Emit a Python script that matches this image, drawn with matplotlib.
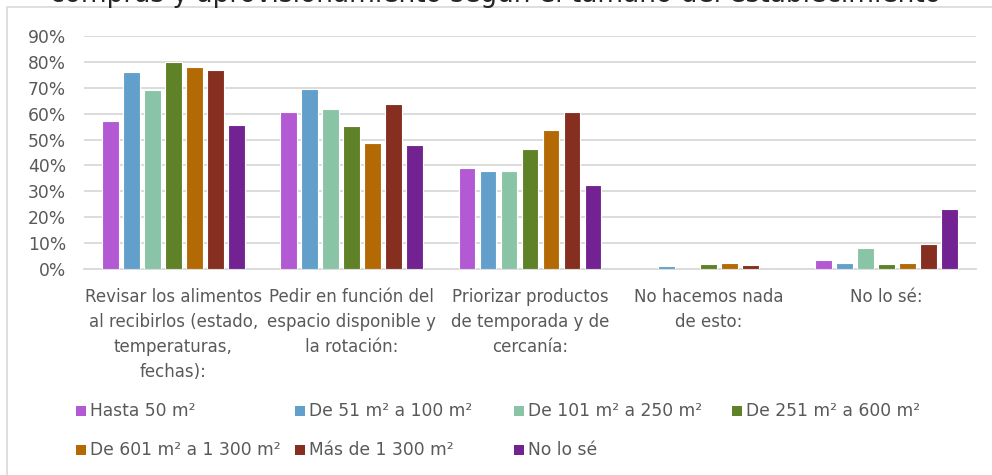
import matplotlib
matplotlib.use("Agg")
import matplotlib.pyplot as plt
from matplotlib.patches import Rectangle
import numpy as np

plt.rcParams['font.family'] = ['DejaVu Sans']

# datos
categorias = [
    "Revisar los alimentos\nal recibirlos (estado,\ntemperaturas,\nfechas):",
    "Pedir en función del\nespacio disponible y\nla rotación:",
    "Priorizar productos\nde temporada y de\ncercanía:",
    "No hacemos nada\nde esto:",
    "No lo sé:",
]
series = [
    "Hasta 50 m²",
    "De 51 m² a 100 m²",
    "De 101 m² a 250 m²",
    "De 251 m² a 600 m²",
    "De 601 m² a 1 300 m²",
    "Más de 1 300 m²",
    "No lo sé",
]
hasta_50 = [0.57, 0.605, 0.39, 0.0, 0.035]
de_51_100 = [0.76, 0.695, 0.38, 0.01, 0.024]
de_101_250 = [0.69, 0.617, 0.38, 0.0, 0.081]
de_251_600 = [0.80, 0.554, 0.465, 0.02, 0.02]
de_601_1300 = [0.78, 0.487, 0.536, 0.022, 0.022]
mas_1300 = [0.77, 0.637, 0.605, 0.014, 0.098]
no_lo_se = [0.555, 0.479, 0.324, 0.0, 0.23]
valores = [hasta_50, de_51_100, de_101_250, de_251_600, de_601_1300, mas_1300, no_lo_se]

colores = ['#B259D3', '#62A0CB', '#8AC4A7', '#5F8127', '#B36A05', '#862F21', '#722391']
gris = '#595959'

W, H = 992, 475
fig = plt.figure(figsize=(W / 100, H / 100), dpi=100)

# marco del gráfico
fig.patches.append(Rectangle((7 / W, -0.1), 1.2, 1 - 7 / H + 0.1, transform=fig.transFigure,
                             fill=False, edgecolor='#D9D9D9', linewidth=1.2))

# título (cortado arriba, como en el original)
fig.text(0.5, 1 - 2 / H, "compras y aprovisionamiento según el tamaño del establecimiento",
         ha='center', va='baseline', fontsize=19, color='#262626')

ax = fig.add_axes([84 / W, 1 - 269 / H, (976 - 84) / W, (269 - 36) / H])

x = np.arange(len(categorias))
paso = 0.1177
ancho = 0.095
for j, vals in enumerate(valores):
    ax.bar(x + (j - 3) * paso, vals, width=ancho, color=colores[j],
           edgecolor='white', linewidth=0.8, zorder=3)

ax.set_xlim(-0.5, len(categorias) - 0.5)
ax.set_ylim(0, 0.9)
ax.set_yticks(np.arange(0, 0.91, 0.1))
ax.set_yticklabels([f"{int(round(v * 100))}%" for v in np.arange(0, 0.91, 0.1)],
                   fontsize=12.3, color=gris)
ax.set_xticks(x)
ax.set_xticklabels(categorias, fontsize=12, color=gris, linespacing=1.5)
ax.tick_params(axis='both', length=0)
ax.tick_params(axis='y', pad=13)
ax.tick_params(axis='x', pad=14)
ax.grid(axis='y', color='#D9D9D9', linewidth=1.3, zorder=0)
for s in ['top', 'right', 'left']:
    ax.spines[s].set_visible(False)
ax.spines['bottom'].set_color('#D9D9D9')
ax.spines['bottom'].set_linewidth(1.3)

# leyenda en filas, columnas de igual ancho como en Excel
col_x = [76, 295, 514, 732]
fila_y = [411, 450]
for k, (nombre, c) in enumerate(zip(series, colores)):
    px = col_x[k % 4]
    py = fila_y[k // 4]
    fig.patches.append(Rectangle((px / W, 1 - (py + 5) / H), 10 / W, 10 / H,
                                 transform=fig.transFigure, facecolor=c, edgecolor='none'))
    fig.text((px + 14) / W, 1 - py / H, nombre, ha='left', va='center',
             fontsize=12.3, color=gris)

fig.savefig("out.png", dpi=100)
